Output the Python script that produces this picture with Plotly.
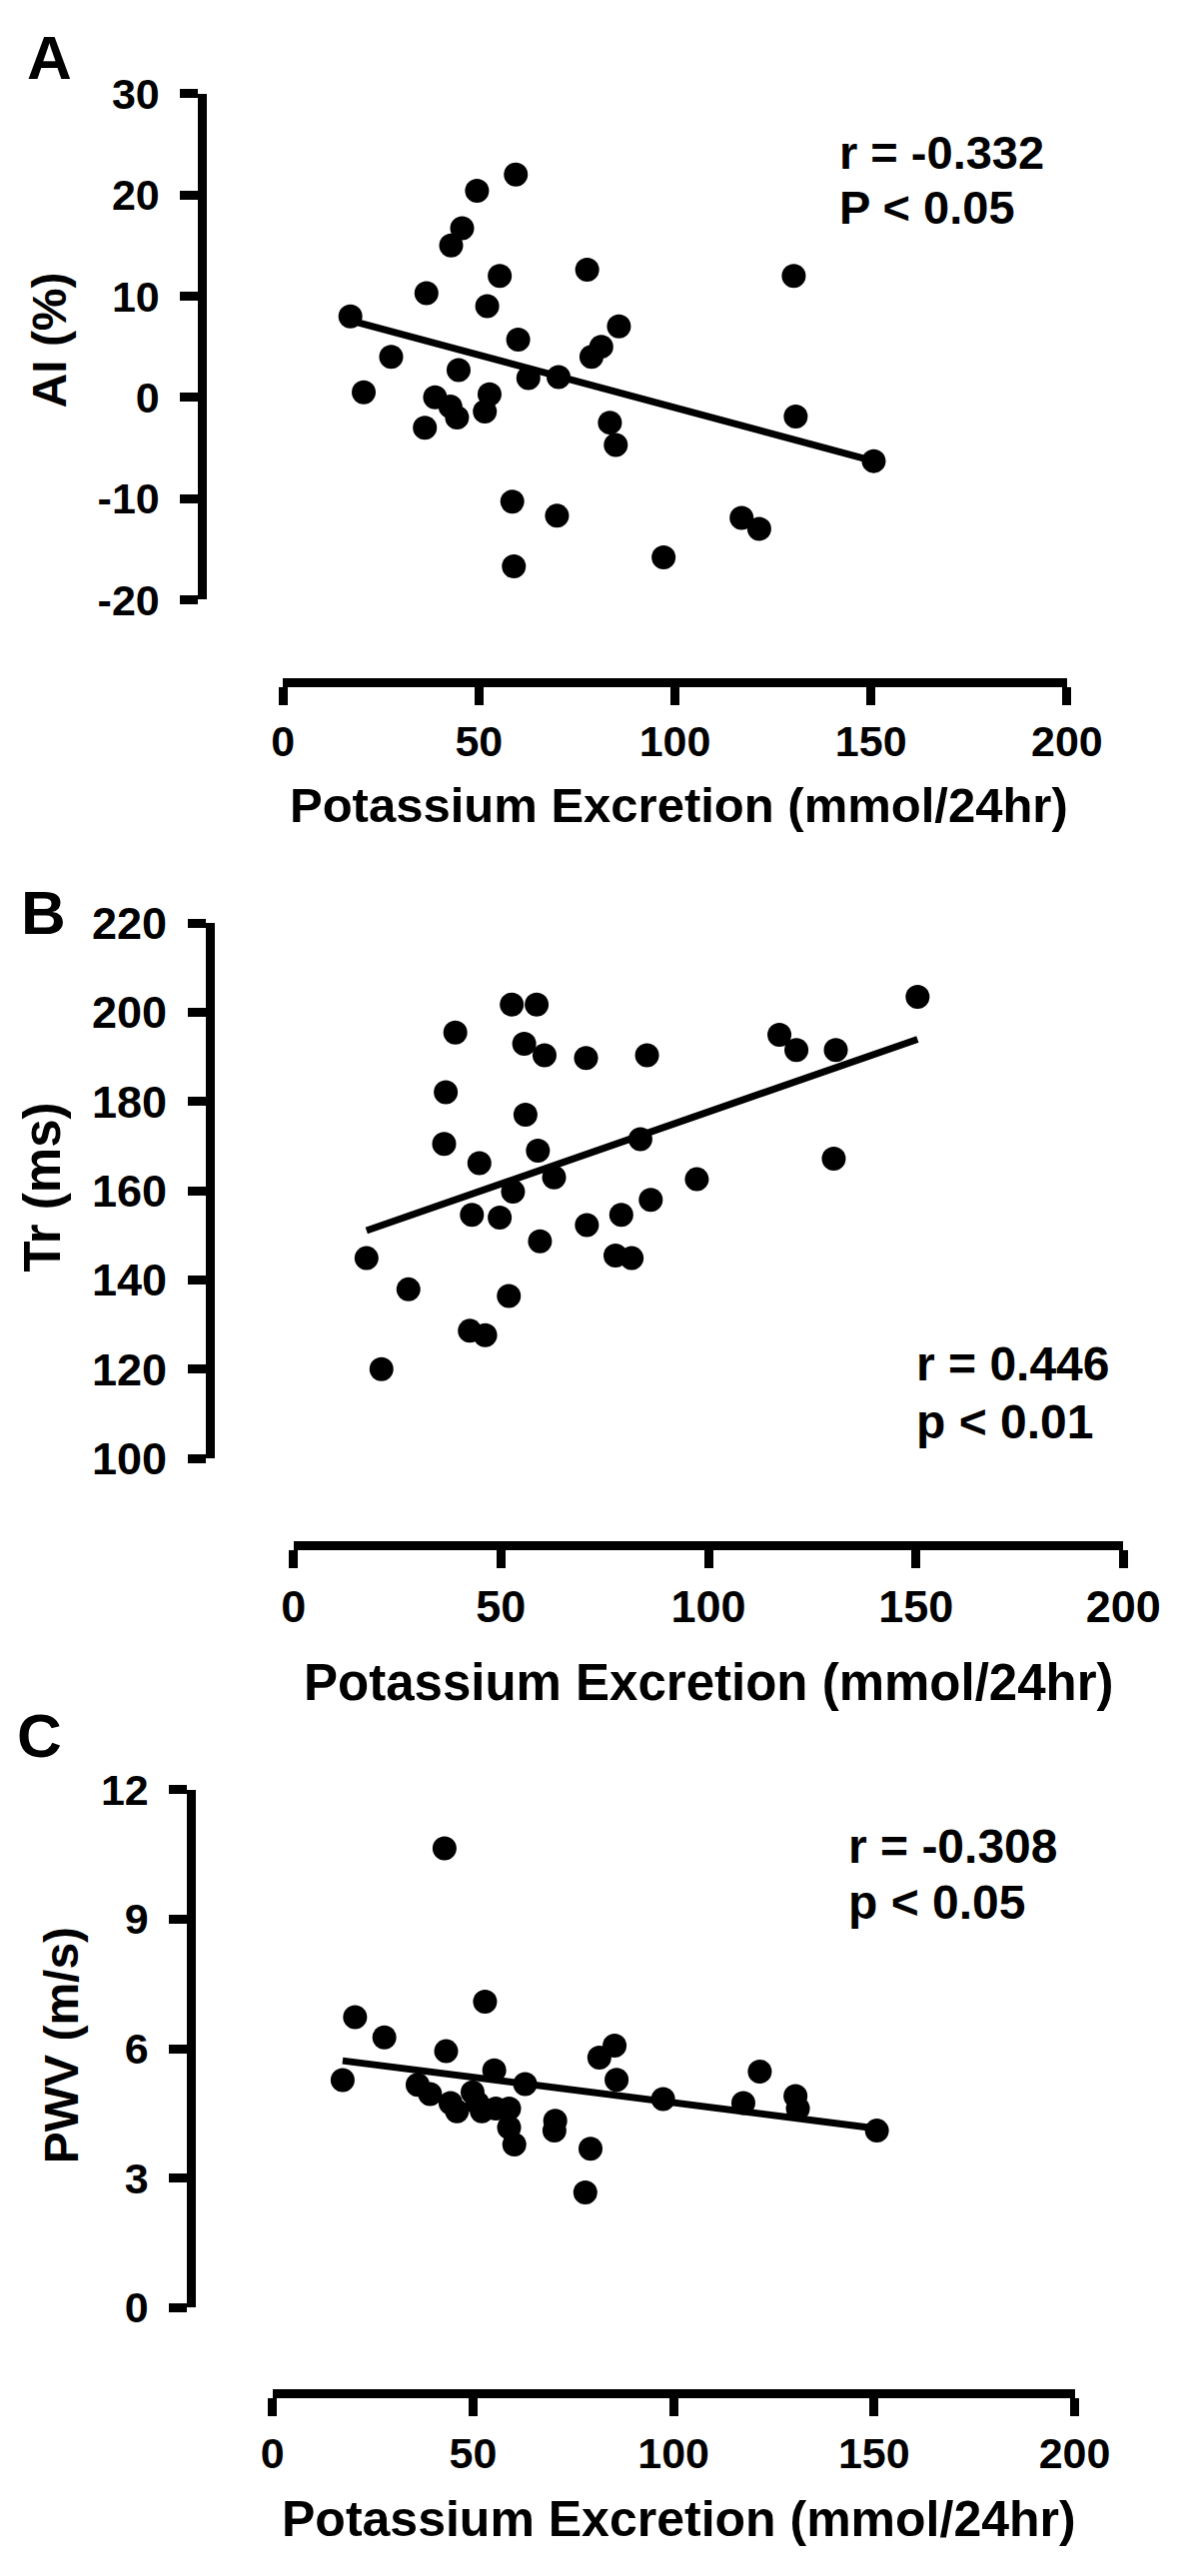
import plotly.graph_objects as go

# page is 1200x2579; the html body has an 8px default margin, so the figure is 16px smaller
PAGE_W, PAGE_H, BODY_M = 1200, 2579, 8
W, H = PAGE_W - 2 * BODY_M, PAGE_H - 2 * BODY_M

# ---------------- data ----------------
A_x = [17.2, 20.6, 27.6, 36.2, 36.6, 38.8, 42.7, 44.4, 42.9, 45.7, 44.8, 49.5, 52.1, 51.5, 52.7,
       55.3, 59.4, 60.0, 58.5, 58.9, 62.6, 70.3, 69.9, 77.6, 78.7, 81.2, 85.7, 83.4, 84.9, 97.1,
       117.0, 121.5, 130.3, 130.8, 150.7]
A_y = [8.0, 0.5, 4.0, -3.0, 10.3, 0.0, -0.9, -2.0, 15.0, 16.7, 2.7, 20.4, 9.0, -1.4, 0.3,
       12.0, 22.0, 5.7, -10.3, -16.7, 1.9, 2.0, -11.7, 12.6, 4.0, 5.0, 7.0, -2.5, -4.7, -15.8,
       -11.9, -13.0, 12.0, -1.9, -6.3]
A_fit_x = [17.2, 150.7]
A_fit_y = [7.6, -6.3]

B_x = [17.6, 21.2, 27.7, 36.7, 36.3, 39.0, 43.0, 42.5, 44.8, 46.2, 49.7, 51.9, 52.9, 52.6, 55.6,
       55.9, 58.6, 58.9, 59.4, 60.5, 62.8, 70.5, 70.7, 77.6, 79.0, 81.5, 83.6, 85.2, 86.1, 97.2,
       117.1, 121.2, 130.7, 130.2, 150.4]
B_y = [144.9, 120.0, 137.9, 182.1, 170.5, 195.5, 154.6, 128.6, 166.2, 127.6, 154.0, 136.4, 159.8, 201.8, 193.0,
       177.1, 201.8, 169.0, 148.7, 190.4, 163.0, 189.8, 152.3, 145.5, 154.6, 144.9, 171.6, 190.4, 158.0, 162.6,
       195.0, 191.6, 191.6, 167.2, 203.5]
B_fit_x = [17.6, 150.4]
B_fit_y = [151.1, 194.0]

C_x = [17.5, 20.6, 27.9, 36.2, 39.3, 42.9, 43.3, 44.4, 46.0, 49.9, 51.1, 52.2, 53.0, 55.3, 55.7,
       59.0, 59.0, 60.3, 63.0, 70.5, 70.3, 78.0, 79.3, 81.5, 85.3, 85.8, 97.4, 117.4, 121.5, 130.4,
       131.0, 150.7]
C_y = [5.27, 6.73, 6.26, 5.16, 4.95, 10.64, 5.94, 4.74, 4.55, 4.99, 4.74, 4.55, 7.09, 5.50, 4.61,
       4.61, 4.17, 3.78, 5.18, 4.33, 4.10, 2.67, 3.68, 5.79, 6.07, 5.28, 4.83, 4.74, 5.47, 4.90,
       4.61, 4.10]
C_fit_x = [17.5, 150.7]
C_fit_y = [5.72, 4.15]

X_TICKS = [0, 50, 100, 150, 200]
A_YTICKS = [-20, -10, 0, 10, 20, 30]
B_YTICKS = [100, 120, 140, 160, 180, 200, 220]
C_YTICKS = [0, 3, 6, 9, 12]

X_TITLE = "Potassium Excretion (mmol/24hr)"
Y_TITLES = ["AI (%)", "Tr (ms)", "PWV (m/s)"]
STATS = [("r = -0.332", "P < 0.05"), ("r = 0.446", "p < 0.01"), ("r = -0.308", "p < 0.05")]
LETTERS = ["A", "B", "C"]

FONT = "Liberation Sans, Arial, Helvetica, sans-serif"


def fx(px):
    return (px - BODY_M) / W


def fy(py):
    return 1 - (py - BODY_M) / H


# pixel geometry per panel (page pixels)
panels = [
    dict(x=A_x, y=A_y, fx_=A_fit_x, fy_=A_fit_y, yticks=A_YTICKS, yr=[-20, 30],
         xd=(282, 1102), yd=(70, 587), xline=671, yline=197.5, tfs=43,
         xt=(696, 797, 49), yt=(38, 322, 48), letter=(38, 33), stats=(862, 129.5, 186.5, 47)),
    dict(x=B_x, y=B_y, fx_=B_fit_x, fy_=B_fit_y, yticks=B_YTICKS, yr=[100, 220],
         xd=(293, 1161), yd=(917.5, 1464), xline=1552.5, yline=205.5, tfs=45,
         xt=(728, 1693, 51), yt=(31, 1187, 51), letter=(31, 906), stats=(942, 1367.5, 1427, 48)),
    dict(x=C_x, y=C_y, fx_=C_fit_x, fy_=C_fit_y, yticks=C_YTICKS, yr=[0, 12],
         xd=(271, 1110), yd=(1802.5, 2331.5), xline=2419, yline=186, tfs=43,
         xt=(696, 2548, 50), yt=(50, 2064, 48), letter=(27, 1747), stats=(871, 1860, 1917, 48)),
]

fig = go.Figure()
layout = dict(
    width=W, height=H, margin=dict(l=0, r=0, t=0, b=0, pad=0),
    paper_bgcolor="white", plot_bgcolor="white", showlegend=False,
    font=dict(family=FONT, color="black"),
)
annotations = []

for i, p in enumerate(panels):
    n = "" if i == 0 else str(i + 1)
    xa, ya = "x" + n, "y" + n
    fig.add_trace(go.Scatter(x=p["x"], y=p["y"], mode="markers", xaxis=xa, yaxis=ya,
                             marker=dict(size=24, color="black", line=dict(width=0))))
    fig.add_trace(go.Scatter(x=p["fx_"], y=p["fy_"], mode="lines", xaxis=xa, yaxis=ya,
                             line=dict(color="black", width=7)))
    tickfont = dict(family=FONT, size=p["tfs"], color="black", weight="bold")
    layout["xaxis" + n] = dict(
        domain=[fx(p["xd"][0]), fx(p["xd"][1])], range=[0, 200], anchor="free",
        position=fy(p["xline"]), showline=True, linewidth=9, linecolor="black",
        ticks="outside", ticklen=18, tickwidth=9, tickcolor="black",
        tickvals=X_TICKS, ticktext=[str(v) for v in X_TICKS], tickfont=tickfont,
        showgrid=False, zeroline=False, fixedrange=True,
    )
    layout["yaxis" + n] = dict(
        domain=[fy(p["yd"][1]), fy(p["yd"][0])], range=p["yr"], anchor="free",
        position=fx(p["yline"]), showline=True, linewidth=9, linecolor="black",
        ticks="outside", ticklen=18, tickwidth=9, tickcolor="black",
        tickvals=p["yticks"], ticktext=[str(v) for v in p["yticks"]], tickfont=tickfont,
        ticklabelstandoff=12,
        showgrid=False, zeroline=False, fixedrange=True,
    )
    annotations.append(dict(text=X_TITLE, x=fx(p["xt"][0]), y=fy(p["xt"][1]), xref="paper", yref="paper",
                            xanchor="center", yanchor="middle", showarrow=False,
                            font=dict(family=FONT, size=p["xt"][2], color="black", weight="bold")))
    annotations.append(dict(text=Y_TITLES[i], x=fx(p["yt"][0]), y=fy(p["yt"][1]), xref="paper", yref="paper",
                            xanchor="center", yanchor="middle", showarrow=False, textangle=-90,
                            font=dict(family=FONT, size=p["yt"][2], color="black", weight="bold")))
    annotations.append(dict(text=LETTERS[i], x=fx(p["letter"][0]), y=fy(p["letter"][1]), xref="paper",
                            yref="paper", xanchor="center", yanchor="middle", showarrow=False,
                            font=dict(family=FONT, size=62, color="black", weight="bold")))
    sx, s1, s2, ss = p["stats"]
    for txt, sy in zip(STATS[i], (s1, s2)):
        annotations.append(dict(text=txt, x=fx(sx), y=fy(sy), xref="paper", yref="paper",
                                xanchor="left", yanchor="middle", showarrow=False,
                                font=dict(family=FONT, size=ss, color="black", weight="bold")))

layout["annotations"] = annotations
fig.update_layout(**layout)
fig.write_html("out.html")
